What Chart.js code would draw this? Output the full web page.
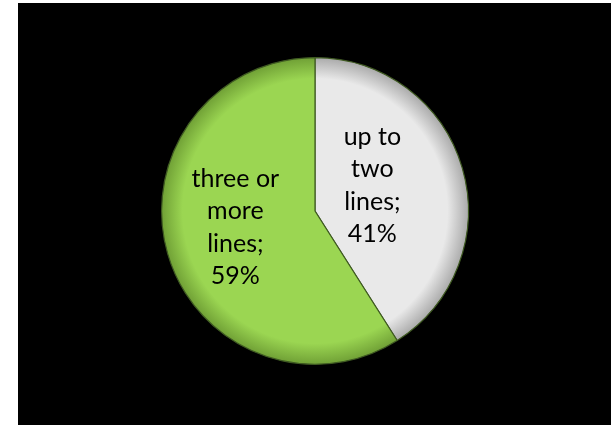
<!DOCTYPE html>
<html>
<head>
<meta charset="utf-8">
<style>
  html, body { margin: 0; padding: 0; background: #ffffff; }
  #wrap { position: relative; width: 611px; height: 425px; }
</style>
<script src="https://cdn.jsdelivr.net/npm/chart.js@4/dist/chart.umd.min.js"></script>
</head>
<body>
<div id="wrap"><canvas id="c" width="611" height="425"></canvas></div>
<script>
// Share of customers by number of lines
const categories = ['up to two lines', 'three or more lines'];
const shares = [41, 59];
const sliceLabels = [['up to', 'two', 'lines;', '41%'], ['three or', 'more', 'lines;', '59%']];

// base and rim colours of each slice (rim gives the bevelled look)
const baseColors = ['#e9e9e9', '#9bd652'];
const rimColors = ['#a9a9a9', '#6f9f35'];

// black panel behind the pie
const panel = {
  id: 'panel',
  beforeDraw(chart) {
    const ctx = chart.ctx;
    ctx.save();
    ctx.fillStyle = '#000000';
    ctx.fillRect(18, 3, chart.width - 18, chart.height - 3);
    ctx.restore();
  }
};

// multi-line labels placed inside each slice
const sliceText = {
  id: 'sliceText',
  afterDatasetsDraw(chart, args, opts) {
    const ctx = chart.ctx;
    const meta = chart.getDatasetMeta(0);
    ctx.save();
    ctx.font = opts.font;
    ctx.fillStyle = '#000000';
    ctx.textAlign = 'center';
    ctx.textBaseline = 'middle';
    meta.data.forEach((arc, i) => {
      const p = arc.getProps(['x', 'y', 'startAngle', 'endAngle', 'outerRadius'], true);
      const mid = (p.startAngle + p.endAngle) / 2 + opts.angleShift[i];
      const r = p.outerRadius * opts.radial[i];
      const cx = p.x + Math.cos(mid) * r;
      const cy = p.y + Math.sin(mid) * r;
      const lines = sliceLabels[i];
      const top = cy - (lines.length - 1) * opts.lineHeight / 2;
      lines.forEach((t, k) => ctx.fillText(t, cx, top + k * opts.lineHeight));
    });
    ctx.restore();
  }
};

function sliceFill(context) {
  const chart = context.chart;
  const area = chart.chartArea;
  if (!area) return baseColors[context.dataIndex];
  const cx = (area.left + area.right) / 2;
  const cy = (area.top + area.bottom) / 2;
  const r = Math.min(area.right - area.left, area.bottom - area.top) / 2;
  const g = chart.ctx.createRadialGradient(cx, cy, 0, cx, cy, r);
  g.addColorStop(0, baseColors[context.dataIndex]);
  g.addColorStop(0.86, baseColors[context.dataIndex]);
  g.addColorStop(1, rimColors[context.dataIndex]);
  return g;
}

new Chart(document.getElementById('c'), {
  type: 'pie',
  data: {
    labels: categories,
    datasets: [{
      data: shares,
      backgroundColor: sliceFill,
      borderColor: '#3f5a22',
      borderWidth: 1.2,
      hoverOffset: 0
    }]
  },
  options: {
    responsive: false,
    animation: false,
    events: [],
    layout: { padding: { left: 161, right: 142, top: 57, bottom: 60 } },
    plugins: {
      legend: { display: false },
      tooltip: { enabled: false },
      sliceText: {
        font: '25px Lato, "Open Sans", sans-serif',
        lineHeight: 32.5,
        radial: [0.41, 0.53],
        angleShift: [-0.14, 0.08]
      }
    }
  },
  plugins: [panel, sliceText]
});
</script>
</body>
</html>
